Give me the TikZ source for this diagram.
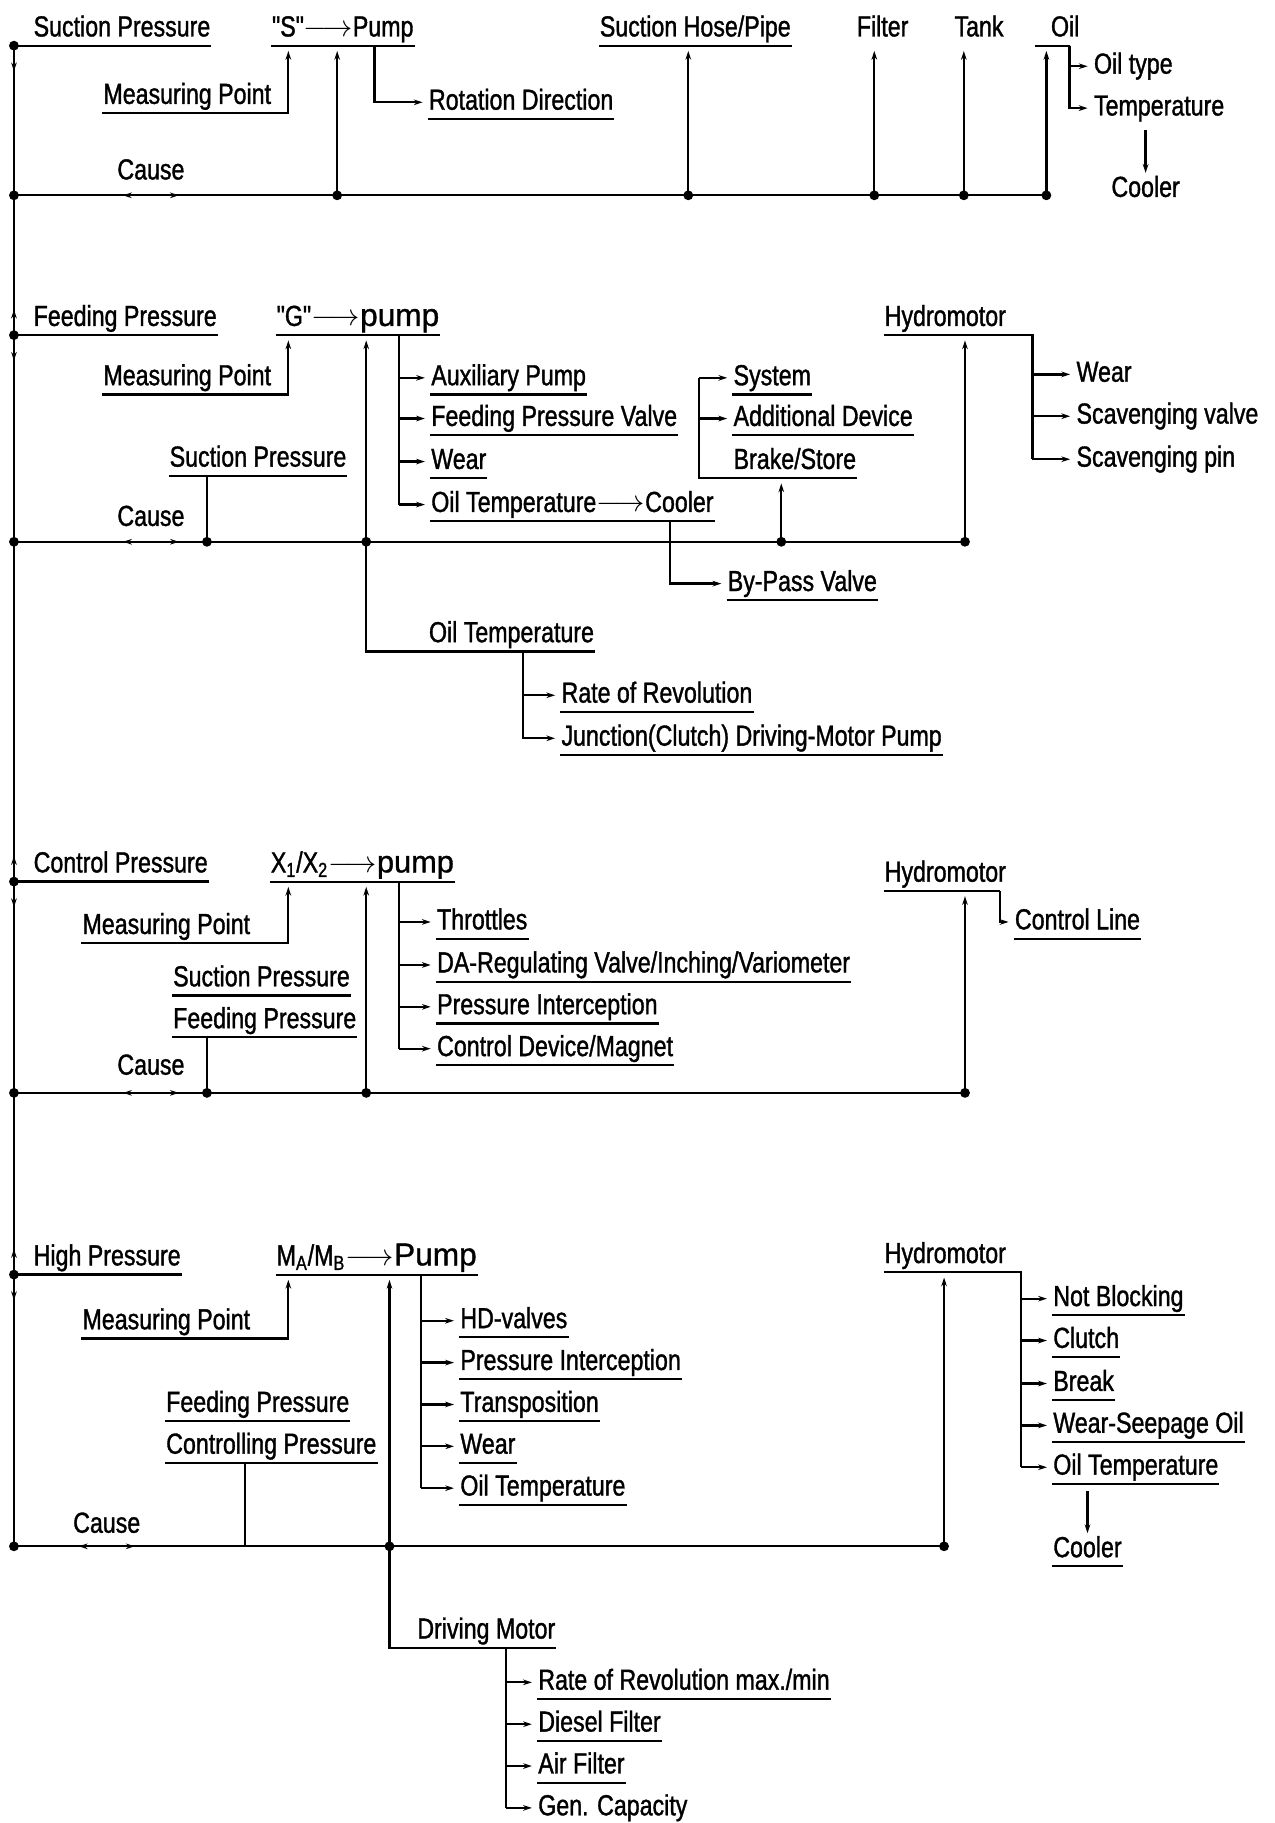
\documentclass[tikz,border=0pt]{standalone}
\usepackage{fontspec}
\newfontfamily\diafont{Liberation Sans}[FakeStretch=0.8, FakeBold=1.2]
\newfontfamily\pumpfont{Liberation Sans}[FakeBold=1]
\usetikzlibrary{arrows.meta}

\begin{document}
\begin{tikzpicture}[x=0.02325cm, y=-0.02325cm, line width=1.3pt, >={Stealth[length=5pt,width=3.2pt]}]
    \tikzstyle{txt} = [anchor=west, inner xsep=0pt, inner ysep=1pt, text height=12pt, text depth=3.6pt, font=\diafont\fontsize{16.5}{18}\selectfont]
    \tikzstyle{ul} = [line width=1.2pt]
    \tikzstyle{feed} = [->, shorten >=3pt]
    \tikzstyle{tip} = [->]
    \useasboundingbox (0,0) rectangle (1096,1568);
    \coordinate (spine) at (12,0);

    % suction pressure
    \node[txt] (SP) at (28,25) {Suction Pressure};
    \node[txt] (SPump) at (233,25) {"S"$\longrightarrow$Pump};
    \node[txt] (Hose) at (515,25) {Suction Hose/Pipe};
    \node[txt] (Filter) at (736,25) {Filter};
    \node[txt] (Tank) at (820,25) {Tank};
    \node[txt] (Oil) at (903,25) {Oil};
    \node[txt] (MP1) at (88,83) {Measuring Point};
    \node[txt] (Rot) at (368,88) {Rotation Direction};
    \node[txt] (C1) at (100,148) {Cause};
    \node[txt] (OilType) at (940,57) {Oil type};
    \node[txt] (Temp) at (940,93) {Temperature};
    \node[txt] (Cool1) at (955,163) {Cooler};
    \coordinate (h1) at (SP.south -| spine);
    \coordinate (c1) at (12,168);
    \draw (h1) -- (SP.south east);
    \draw (c1) -- (900,168);
    \foreach \n in {SPump,Hose,Rot}
        \draw[ul] (\n.south west) -- (\n.south east);
    \draw[feed] (MP1.south west) -| (248,0 |- SPump.south);
    \draw[feed] (322,0 |- SPump.south) |- (Rot.west);
    \foreach \x/\n in {290/SPump,592/Hose,752/Filter,829/Tank,900/Oil}
        \draw[feed] (\x,168) -- (\x,0 |- \n.south);
    \draw[ul] (890,0 |- Oil.south) -- (920,0 |- Oil.south);
    \draw[feed] (920,0 |- Oil.south) |- (OilType.west);
    \draw[feed] (920,0 |- Oil.south) |- (Temp.west);
    \draw[->] ([yshift=-3pt]Cool1.north |- Temp.south) -- (Cool1.north);
    \foreach \x in {12,290,592,752,829,900}
        \fill (\x,168) circle (2.8pt);

    % feeding pressure
    \node[txt] (FP) at (28,274) {Feeding Pressure};
    \node[txt] (GPump) at (237,274) {"G"$\longrightarrow${\pumpfont\fontsize{18}{20}\selectfont pump}};
    \node[txt] (MP2) at (88,325) {Measuring Point};
    \node[txt] (Aux) at (370,325) {Auxiliary Pump};
    \node[txt] (FPV) at (370,360) {Feeding Pressure Valve};
    \node[txt] (Wear2) at (370,397) {Wear};
    \node[txt] (OTC) at (370,434) {Oil Temperature$\longrightarrow$Cooler};
    \node[txt] (SP2) at (145,395) {Suction Pressure};
    \node[txt] (C2) at (100,446) {Cause};
    \node[txt] (Sys) at (630,325) {System};
    \node[txt] (AddDev) at (630,360) {Additional Device};
    \node[txt] (Brake) at (630,397) {Brake/Store};
    \node[txt] (ByPass) at (625,502) {By-Pass Valve};
    \node[txt] (HM2) at (760,274) {Hydromotor};
    \node[txt] (HWear) at (925,322) {Wear};
    \node[txt] (ScV) at (925,358) {Scavenging valve};
    \node[txt] (ScP) at (925,395) {Scavenging pin};
    \node[txt] (OT2) at (368,546) {Oil Temperature};
    \node[txt] (Rev) at (482,598) {Rate of Revolution};
    \node[txt] (Junc) at (482,635) {Junction(Clutch) Driving-Motor Pump};
    \coordinate (h2) at (FP.south -| spine);
    \coordinate (c2) at (12,466);
    \draw (h2) -- (FP.south east);
    \draw (c2) -- (830,466);
    \foreach \n in {GPump,Aux,FPV,Wear2,OTC,SP2,Sys,AddDev,ByPass,Rev,Junc}
        \draw[ul] (\n.south west) -- (\n.south east);
    \draw[feed] (MP2.south west) -| (248,0 |- GPump.south);
    \draw (343,0 |- GPump.south) -- (343,0 |- OTC.west);
    \foreach \n in {Aux,FPV,Wear2,OTC}
        \draw[feed] (343,0 |- \n.west) -- (\n.west);
    \draw (178,0 |- SP2.south) -- (178,466);
    \draw[feed] (315,466) -- (315,0 |- GPump.south);
    \draw (315,466) |- (OT2.south east);
    \draw[feed] (450,0 |- OT2.south) |- (Rev.west);
    \draw[feed] (450,0 |- OT2.south) |- (Junc.west);
    \draw (Brake.south east) -- (601,0 |- Brake.south) -- (601,0 |- Sys.west);
    \draw[feed] (601,0 |- Sys.west) -- (Sys.west);
    \draw[feed] (601,0 |- AddDev.west) -- (AddDev.west);
    \draw[feed] (672,466) -- (672,0 |- Brake.south);
    \draw[feed] (576,0 |- OTC.south) |- (ByPass.west);
    \draw (HM2.south west) -- (888,0 |- HM2.south) -- (888,0 |- ScP.west);
    \foreach \n in {HWear,ScV,ScP}
        \draw[feed] (888,0 |- \n.west) -- (\n.west);
    \draw[feed] (830,466) -- (830,0 |- HM2.south);
    \foreach \x in {12,178,315,672,830}
        \fill (\x,466) circle (2.8pt);

    % control pressure
    \node[txt] (CP) at (28,744) {Control Pressure};
    \node[txt] (XPump) at (232,744) {X\textsubscript{1}/X\textsubscript{2}$\longrightarrow${\pumpfont\fontsize{17.5}{20}\selectfont pump}};
    \node[txt] (MP3) at (70,797) {Measuring Point};
    \node[txt] (Thr) at (375,793) {Throttles};
    \node[txt] (DAR) at (375,830) {DA-Regulating Valve/Inching/Variometer};
    \node[txt] (PI3) at (375,866) {Pressure Interception};
    \node[txt] (CDM) at (375,902) {Control Device/Magnet};
    \node[txt] (SP3) at (148,842) {Suction Pressure};
    \node[txt] (FP3) at (148,878) {Feeding Pressure};
    \node[txt] (C3) at (100,918) {Cause};
    \node[txt] (HM3) at (760,752) {Hydromotor};
    \node[txt] (Ctl) at (872,793) {Control Line};
    \coordinate (h3) at (CP.south -| spine);
    \coordinate (c3) at (12,940);
    \draw (h3) -- (CP.south east);
    \draw (c3) -- (830,940);
    \foreach \n in {XPump,Thr,DAR,PI3,CDM,SP3,FP3,Ctl}
        \draw[ul] (\n.south west) -- (\n.south east);
    \draw[feed] (MP3.south west) -| (248,0 |- XPump.south);
    \draw (343,0 |- XPump.south) -- (343,0 |- CDM.west);
    \foreach \n in {Thr,DAR,PI3,CDM}
        \draw[feed] (343,0 |- \n.west) -- (\n.west);
    \draw (178,0 |- FP3.south) -- (178,940);
    \draw[feed] (315,940) -- (315,0 |- XPump.south);
    \draw (HM3.south west) -- (860,0 |- HM3.south);
    \draw[feed] (860,0 |- HM3.south) |- (Ctl.west);
    \draw[feed] (830,940) -- (830,0 |- HM3.south);
    \foreach \x in {12,178,315,830}
        \fill (\x,940) circle (2.8pt);

    % high pressure
    \node[txt] (HP) at (28,1082) {High Pressure};
    \node[txt] (MPump) at (237,1082) {M\textsubscript{A}/M\textsubscript{B}$\longrightarrow${\pumpfont\fontsize{18}{20}\selectfont Pump}};
    \node[txt] (MP4) at (70,1137) {Measuring Point};
    \node[txt] (HDV) at (395,1136) {HD-valves};
    \node[txt] (PI4) at (395,1172) {Pressure Interception};
    \node[txt] (Trans) at (395,1208) {Transposition};
    \node[txt] (Wear4) at (395,1244) {Wear};
    \node[txt] (OT4) at (395,1280) {Oil Temperature};
    \node[txt] (FP4) at (142,1208) {Feeding Pressure};
    \node[txt] (CtP) at (142,1244) {Controlling Pressure};
    \node[txt] (C4) at (62,1312) {Cause};
    \node[txt] (HM4) at (760,1080) {Hydromotor};
    \node[txt] (NB) at (905,1117) {Not Blocking};
    \node[txt] (Clutch) at (905,1153) {Clutch};
    \node[txt] (Brk) at (905,1190) {Break};
    \node[txt] (WSO) at (905,1226) {Wear-Seepage Oil};
    \node[txt] (OT4H) at (905,1262) {Oil Temperature};
    \node[txt] (Cool4) at (905,1333) {Cooler};
    \node[txt] (DM) at (358,1403) {Driving Motor};
    \node[txt] (RRM) at (462,1447) {Rate of Revolution max./min};
    \node[txt] (DF) at (462,1483) {Diesel Filter};
    \node[txt] (AF) at (462,1519) {Air Filter};
    \node[txt] (GC) at (462,1555) {Gen. Capacity};
    \coordinate (h4) at (HP.south -| spine);
    \coordinate (c4) at (12,1330);
    \draw (h4) -- (HP.south east);
    \draw (c4) -- (812,1330);
    \foreach \n in {MPump,HDV,PI4,Trans,Wear4,OT4,FP4,CtP,NB,Clutch,Brk,WSO,OT4H,Cool4,RRM,DF,AF}
        \draw[ul] (\n.south west) -- (\n.south east);
    \draw[feed] (MP4.south west) -| (248,0 |- MPump.south);
    \draw (362,0 |- MPump.south) -- (362,0 |- OT4.west);
    \foreach \n in {HDV,PI4,Trans,Wear4,OT4}
        \draw[feed] (362,0 |- \n.west) -- (\n.west);
    \draw (211,0 |- CtP.south) -- (211,1330);
    \draw[feed] (335,1330) -- (335,0 |- MPump.south);
    \draw (335,1330) |- (DM.south east);
    \draw (HM4.south west) -- (878,0 |- HM4.south) -- (878,0 |- OT4H.west);
    \foreach \n in {NB,Clutch,Brk,WSO,OT4H}
        \draw[feed] (878,0 |- \n.west) -- (\n.west);
    \draw[feed] (812,1330) -- (812,0 |- HM4.south);
    \draw[->] ([yshift=-4pt]Cool4.north |- OT4H.south) -- (Cool4.north);
    \draw (435,0 |- DM.south) -- (435,0 |- GC.west);
    \foreach \n in {RRM,DF,AF,GC}
        \draw[feed] (435,0 |- \n.west) -- (\n.west);
    \foreach \x in {12,335,812}
        \fill (\x,1330) circle (2.8pt);

    % spine and cause marks
    \draw (h1) -- (c4);
    \foreach \p in {h1,h2,h3,h4}
        \fill (\p) circle (2.8pt);
    \foreach \p in {h1,h2,h3,h4}
        \draw[tip] (\p) ++(0,10) -- ++(0,12);
    \foreach \p in {h2,h3,h4}
        \draw[tip] (\p) ++(0,-10) -- ++(0,-12);
    \foreach \n/\c in {C1/c1,C2/c2,C3/c3,C4/c4} {
        \draw[tip] (\n.south |- \c) ++(-12,0) -- ++(-12,0);
        \draw[tip] (\n.south |- \c) ++(12,0) -- ++(12,0);
    }
\end{tikzpicture}
\end{document}
